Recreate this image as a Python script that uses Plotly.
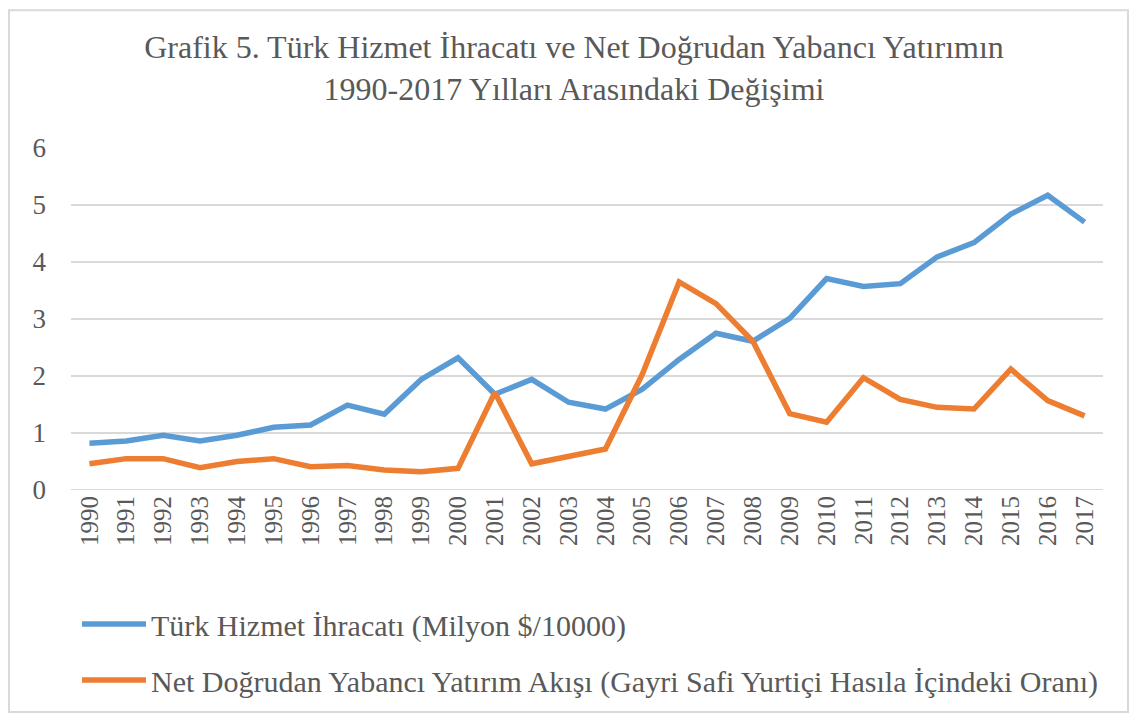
import plotly.graph_objects as go

years = [str(y) for y in range(1990, 2018)]
hizmet_ihracati = [0.82, 0.86, 0.96, 0.86, 0.96, 1.10, 1.14, 1.49, 1.33, 1.94,
                   2.32, 1.68, 1.94, 1.54, 1.42, 1.77, 2.29, 2.75, 2.61, 3.01,
                   3.71, 3.57, 3.62, 4.09, 4.34, 4.84, 5.17, 4.70]
ndyy_orani = [0.46, 0.55, 0.55, 0.39, 0.50, 0.55, 0.41, 0.43, 0.35, 0.32,
              0.38, 1.71, 0.46, 0.58, 0.72, 2.03, 3.65, 3.27, 2.61, 1.34,
              1.19, 1.97, 1.59, 1.45, 1.42, 2.12, 1.57, 1.30]
series_names = ["Türk Hizmet İhracatı (Milyon $/10000)",
                "Net Doğrudan Yabancı Yatırım Akışı (Gayri Safi Yurtiçi Hasıla İçindeki Oranı)"]
title_text = ("Grafik 5. Türk Hizmet İhracatı ve Net Doğrudan Yabancı Yatırımın<br>"
              "1990-2017 Yılları Arasındaki Değişimi")

FONT = "Liberation Serif"
GRAY = "#595959"
OFF = 8  # page body margin
W, H = 1137 - 2 * OFF, 726 - 2 * OFF
# plot area in screen px: x 71..1103, y 148..493
L = 71 - OFF
T = 148 - OFF
R = W - (1103 - OFF)
B = H - (493 - OFF)

fig = go.Figure()
fig.add_trace(go.Scatter(x=years, y=hizmet_ihracati, mode="lines", name=series_names[0],
                         line=dict(color="#5B9BD5", width=5.5), legendgroup="a"))
fig.add_trace(go.Scatter(x=years, y=ndyy_orani, mode="lines", name=series_names[1],
                         line=dict(color="#ED7D31", width=5.5), legendgroup="b"))

pw = W - L - R
ph = H - T - B
def px(x):  # screen x -> paper
    return (x - OFF - L) / pw
def py(y):  # screen y -> paper
    return (H - B - (y - OFF)) / ph

fig.update_layout(
    width=W, height=H,
    margin=dict(l=L, r=R, t=T, b=B),
    paper_bgcolor="white", plot_bgcolor="white",
    font=dict(family=FONT, color=GRAY),
    title=dict(text=title_text, x=(574 - OFF) / W, xanchor="center", xref="container",
               y=1 - 50 / H, yanchor="top",
               font=dict(family=FONT, size=32, color=GRAY)),
    xaxis=dict(type="category", range=[-0.5, 27.5], tickangle=-90,
               tickfont=dict(family=FONT, size=25, color=GRAY),
               showgrid=False, showline=False, ticks="", zeroline=False),
    yaxis=dict(range=[0, 6], dtick=1, tickfont=dict(family=FONT, size=27, color=GRAY),
               showgrid=True, gridcolor="#D9D9D9", gridwidth=2, zeroline=False,
               showline=False, ticks="", ticklabelstandoff=24),
    legend=dict(x=px(77), y=py(602), xanchor="left", yanchor="top",
                font=dict(family=FONT, size=30, color=GRAY),
                itemwidth=64, tracegroupgap=14, traceorder="grouped",
                bgcolor="rgba(0,0,0,0)"),
    shapes=[dict(type="rect", xref="paper", yref="paper",
                 x0=px(OFF + 1), x1=px(1137 - OFF - 1), y0=py(726 - OFF - 1), y1=py(OFF + 1),
                 line=dict(color="#D9D9D9", width=2), layer="below")],
)
fig.add_shape(type="line", xref="paper", yref="y", x0=0, x1=1, y0=0, y1=0,
              line=dict(color="#D9D9D9", width=2), layer="below")

fig.write_html("out.html")
